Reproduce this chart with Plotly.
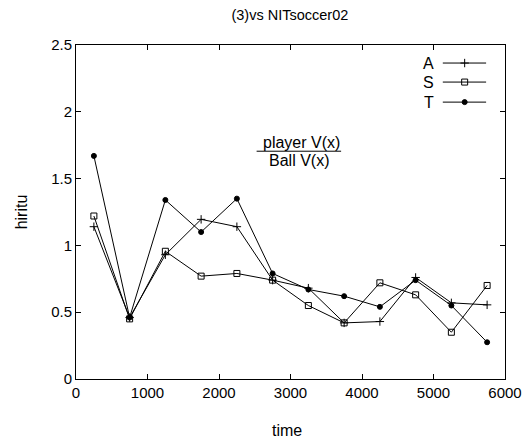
import plotly.graph_objects as go

time = [250, 750, 1250, 1750, 2250, 2750, 3250, 3750, 4250, 4750, 5250, 5750]
A = [1.14, 0.46, 0.93, 1.195, 1.14, 0.74, 0.68, 0.42, 0.43, 0.76, 0.57, 0.555]
S = [1.22, 0.45, 0.956, 0.77, 0.79, 0.74, 0.55, 0.42, 0.72, 0.63, 0.35, 0.70]
T = [1.67, 0.46, 1.34, 1.10, 1.35, 0.79, 0.67, 0.62, 0.54, 0.74, 0.55, 0.275]

names = ["A", "S", "T"]
series = [A, S, T]
symbols = ["cross-thin", "square-open", "circle"]
sizes = [6, 6, 5]

FONT = "Liberation Sans, Arial, sans-serif"

fig = go.Figure()
for n, s, sym, sz in zip(names, series, symbols, sizes):
    fig.add_trace(go.Scatter(
        x=time, y=s, mode="lines+markers", name=n, showlegend=False,
        line=dict(color="black", width=1),
        marker=dict(symbol=sym, size=sz, color="black",
                    line=dict(color="black", width=1)),
    ))

# manual gnuplot-style legend (text left, sample right)
leg_y = [0.946, 0.889, 0.829]
for n, sym, sz, ly in zip(names, symbols, sizes, leg_y):
    fig.add_trace(go.Scatter(
        x=[0.855, 0.906, 0.956], y=[ly, ly, ly], xaxis="x2", yaxis="y2",
        mode="lines", showlegend=False, hoverinfo="skip",
        line=dict(color="black", width=1),
    ))
    fig.add_trace(go.Scatter(
        x=[0.906], y=[ly], xaxis="x2", yaxis="y2",
        mode="markers", showlegend=False, hoverinfo="skip",
        marker=dict(symbol=sym, size=sz, color="black",
                    line=dict(color="black", width=1)),
    ))
    fig.add_annotation(x=0.838, y=ly, xref="x2", yref="y2", text=n,
                       showarrow=False, xanchor="right", yanchor="middle",
                       font=dict(family=FONT, size=16, color="black"))

fig.add_annotation(x=0.526, y=0.707, xref="x2", yref="y2", text="player V(x)",
                   showarrow=False, xanchor="center", yanchor="middle",
                   font=dict(family=FONT, size=16, color="black"))
fig.add_annotation(x=0.52, y=0.655, xref="x2", yref="y2", text="Ball V(x)",
                   showarrow=False, xanchor="center", yanchor="middle",
                   font=dict(family=FONT, size=16, color="black"))
fig.add_shape(type="line", x0=0.421, x1=0.618, y0=0.682, y1=0.682,
              xref="x2", yref="y2", line=dict(color="black", width=1))

# x-axis title placed explicitly (keeps plot area fixed)
fig.add_annotation(x=0.492, y=-0.153, xref="paper", yref="paper", text="time",
                   showarrow=False, xanchor="center", yanchor="middle",
                   font=dict(family=FONT, size=16, color="black"))

axis_common = dict(
    showgrid=False, zeroline=False, ticks="inside", ticklen=5,
    tickcolor="black", linecolor="black", linewidth=1, mirror="allticks",
    showline=True, automargin=False,
    tickfont=dict(family=FONT, size=15, color="black"),
)

fig.update_layout(
    width=523, height=433,
    margin=dict(l=68, r=26, t=37, b=62),
    paper_bgcolor="white", plot_bgcolor="white",
    title=dict(text="(3)vs NITsoccer02", x=0.539, xanchor="center",
               y=0.983, yanchor="middle",
               font=dict(family=FONT, size=14.5, color="black")),
    xaxis=dict(range=[0, 6000], tickvals=[0, 1000, 2000, 3000, 4000, 5000, 6000],
               **axis_common),
    yaxis=dict(range=[0, 2.5], tickvals=[0, 0.5, 1, 1.5, 2, 2.5],
               ticktext=["0", "0.5", "1", "1.5", "2", "2.5"],
               title=dict(text="hiritu", standoff=19,
                          font=dict(family=FONT, size=16, color="black")),
               **axis_common),
    xaxis2=dict(range=[0, 1], overlaying="x", visible=False, fixedrange=True),
    yaxis2=dict(range=[0, 1], overlaying="y", visible=False, fixedrange=True),
    showlegend=False,
)

fig.write_html("out.html")
